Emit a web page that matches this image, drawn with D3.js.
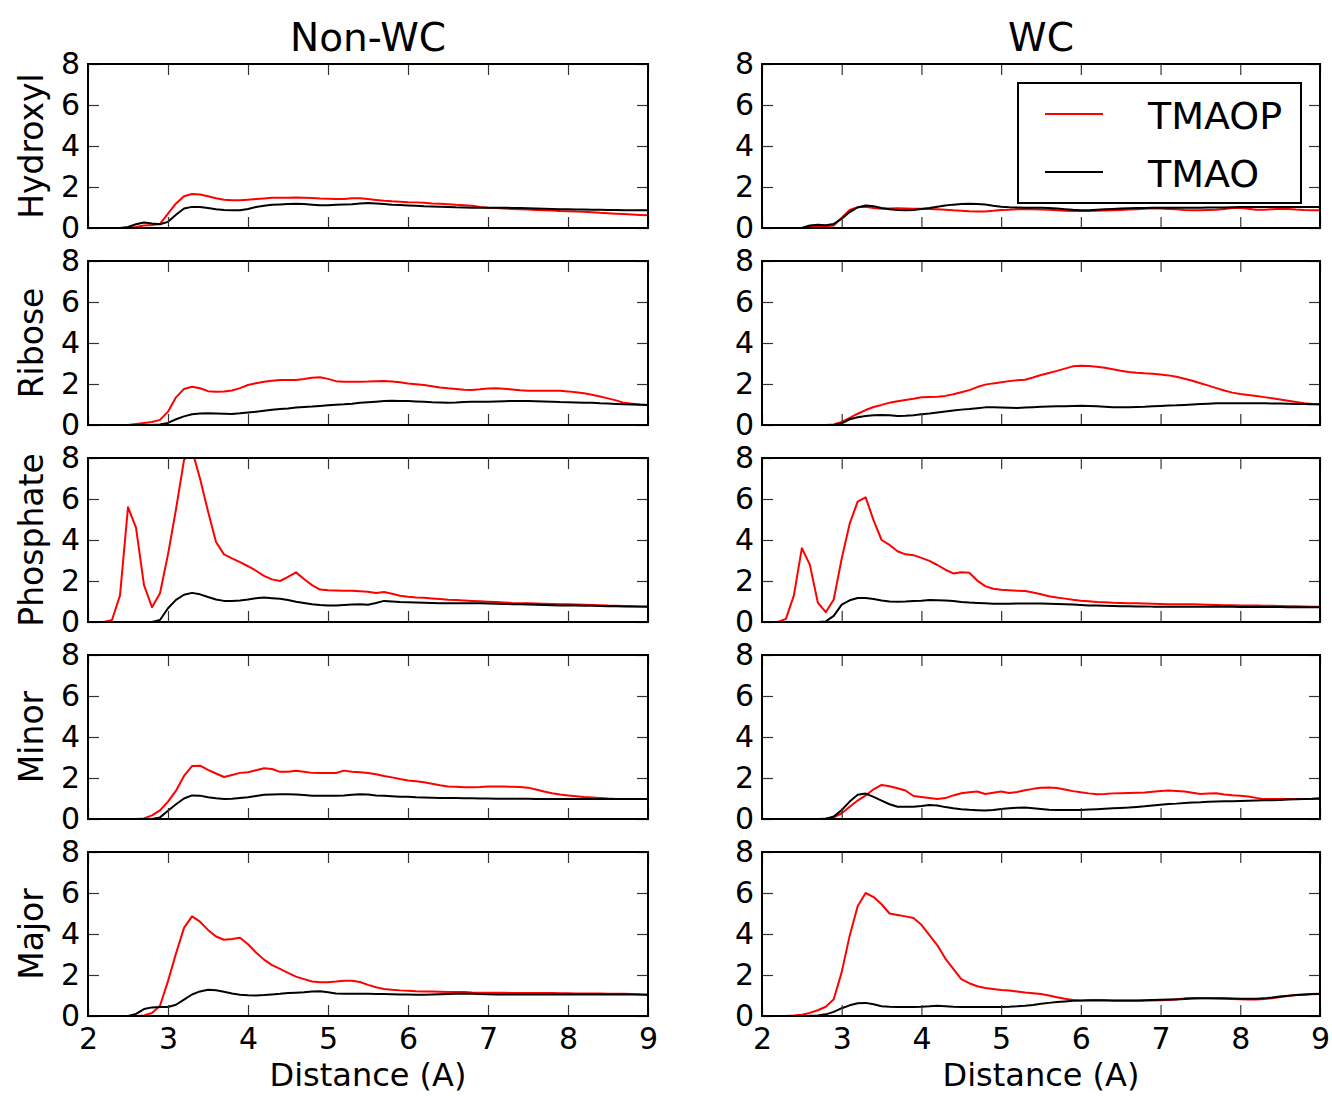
<!DOCTYPE html>
<html lang="en">
<head>
    <meta charset="UTF-8">
    <title>TMAO / TMAOP distribution</title>
    <style>
        body { margin: 0; background: #fff; }
        svg { display: block; font-family: "DejaVu Sans", sans-serif; }
    </style>
</head>
<body>
    <svg id="chart" width="1332" height="1096"></svg>
    <script src="https://d3js.org/d3.v7.min.js"></script>
    <script>
        // 数据 (x = 2.0 .. 9.0, 步长 0.1)
        const distance = d3.range(71).map(i => +(2 + i * 0.1).toFixed(1));
        const groups = ["Hydroxyl", "Ribose", "Phosphate", "Minor", "Major"];
        const pairings = ["Non-WC", "WC"];
        const seriesNames = ["TMAOP", "TMAO"];
        const xTicks = [2, 3, 4, 5, 6, 7, 8, 9];
        const yTicks = [0, 2, 4, 6, 8];

        // Non-WC
        const hydroxylNonWcTmaop = [
            0, 0, 0, 0, 0, 0, 0.05, 0.12, 0.15, 0.2,
            0.7, 1.2, 1.55, 1.66, 1.63, 1.55, 1.45, 1.38, 1.35, 1.35,
            1.38, 1.41, 1.44, 1.47, 1.48, 1.48, 1.49, 1.48, 1.46, 1.44,
            1.43, 1.41, 1.42, 1.45, 1.45, 1.41, 1.37, 1.33, 1.3, 1.28,
            1.26, 1.25, 1.23, 1.2, 1.18, 1.16, 1.13, 1.11, 1.08, 1.03,
            0.99, 0.97, 0.95, 0.93, 0.91, 0.9, 0.88, 0.86, 0.85, 0.83,
            0.82, 0.8, 0.79, 0.77, 0.74, 0.72, 0.7, 0.68, 0.66, 0.64,
            0.62];
        const hydroxylNonWcTmao = [
            0, 0, 0, 0, 0, 0.05, 0.18, 0.27, 0.22, 0.18,
            0.3, 0.65, 0.95, 1.03, 1.02, 0.98, 0.92, 0.88, 0.86, 0.87,
            0.93, 1.02, 1.08, 1.13, 1.15, 1.17, 1.18, 1.17, 1.14, 1.11,
            1.11, 1.13, 1.15, 1.16, 1.19, 1.22, 1.2, 1.17, 1.14, 1.12,
            1.1, 1.08, 1.06, 1.05, 1.04, 1.03, 1.01, 1.0, 0.99, 0.99,
            0.99, 0.99, 0.99, 0.98, 0.97, 0.96, 0.95, 0.94, 0.93, 0.92,
            0.91, 0.9, 0.9, 0.89, 0.89, 0.88, 0.88, 0.87, 0.87, 0.86,
            0.86];
        const riboseNonWcTmaop = [
            0, 0, 0, 0, 0, 0, 0.05, 0.1, 0.15, 0.25,
            0.65, 1.35, 1.76, 1.87, 1.79, 1.65, 1.62, 1.63, 1.68, 1.8,
            1.95, 2.04, 2.11, 2.16, 2.2, 2.2, 2.2, 2.24, 2.3, 2.33,
            2.25, 2.14, 2.11, 2.11, 2.11, 2.12, 2.14, 2.15, 2.12, 2.08,
            2.03, 1.99, 1.95, 1.89, 1.83, 1.79, 1.76, 1.72, 1.71, 1.74,
            1.78, 1.79, 1.77, 1.73, 1.69, 1.67, 1.67, 1.67, 1.67, 1.67,
            1.64, 1.6, 1.55, 1.48, 1.39, 1.3, 1.2, 1.08, 1.04, 1.0,
            0.98];
        const riboseNonWcTmao = [
            0, 0, 0, 0, 0, 0, 0, 0, 0, 0.02,
            0.1, 0.28, 0.42, 0.52, 0.56, 0.57, 0.56, 0.55, 0.54, 0.57,
            0.61, 0.65, 0.7, 0.74, 0.78, 0.81, 0.85, 0.88, 0.9, 0.93,
            0.96, 0.99, 1.01, 1.04, 1.08, 1.11, 1.14, 1.17, 1.18, 1.17,
            1.17, 1.15, 1.13, 1.11, 1.1, 1.09, 1.1, 1.12, 1.13, 1.14,
            1.14, 1.15, 1.16, 1.17, 1.17, 1.17, 1.16, 1.15, 1.14, 1.12,
            1.11, 1.1, 1.09, 1.08, 1.06, 1.05, 1.03, 1.01, 1.0, 0.99,
            0.98];
        const phosphateNonWcTmaop = [
            0, 0, 0, 0.1, 1.3, 5.6, 4.6, 1.8, 0.72, 1.4,
            3.3, 5.5, 7.9, 8.4, 7.0, 5.4, 3.9, 3.3, 3.1, 2.92,
            2.72, 2.5, 2.25, 2.08, 2.0, 2.2, 2.42, 2.1, 1.8, 1.58,
            1.55, 1.54, 1.53, 1.52, 1.5, 1.48, 1.42, 1.46, 1.38, 1.28,
            1.23, 1.2, 1.18, 1.15, 1.12, 1.09, 1.07, 1.05, 1.03, 1.01,
            0.99, 0.97, 0.95, 0.93, 0.92, 0.91, 0.9, 0.89, 0.88, 0.87,
            0.86, 0.85, 0.84, 0.83, 0.82, 0.8, 0.79, 0.78, 0.77, 0.76,
            0.75];
        const phosphateNonWcTmao = [
            0, 0, 0, 0, 0, 0, 0, 0, 0, 0.1,
            0.67, 1.08, 1.33, 1.42, 1.35, 1.22, 1.1, 1.03, 1.02, 1.05,
            1.1, 1.16, 1.19, 1.16, 1.13, 1.07, 0.99, 0.93, 0.87, 0.83,
            0.8, 0.8, 0.83, 0.85, 0.86, 0.84, 0.93, 1.03, 1.0, 0.97,
            0.96, 0.95, 0.94, 0.93, 0.92, 0.91, 0.91, 0.91, 0.91, 0.91,
            0.9, 0.89, 0.88, 0.87, 0.86, 0.85, 0.84, 0.83, 0.82, 0.81,
            0.8, 0.8, 0.79, 0.79, 0.78, 0.77, 0.77, 0.76, 0.76, 0.75,
            0.74];
        const minorNonWcTmaop = [
            0, 0, 0, 0, 0, 0, 0, 0.03, 0.18, 0.42,
            0.85, 1.38, 2.1, 2.58, 2.6, 2.4, 2.22, 2.05, 2.15, 2.25,
            2.28, 2.38, 2.48, 2.44, 2.3, 2.3, 2.35, 2.3, 2.25, 2.24,
            2.24, 2.24, 2.36, 2.3, 2.28, 2.24, 2.18, 2.1, 2.03, 1.95,
            1.88, 1.84, 1.79, 1.72, 1.65, 1.59, 1.57, 1.55, 1.55, 1.56,
            1.58, 1.59, 1.58, 1.57, 1.56, 1.53, 1.44, 1.34, 1.26, 1.19,
            1.15, 1.11, 1.07, 1.05, 1.03, 1.0, 0.98, 0.98, 0.98, 0.98,
            0.98];
        const minorNonWcTmao = [
            0, 0, 0, 0, 0, 0, 0, 0, 0, 0.08,
            0.4, 0.72, 1.0, 1.15, 1.14, 1.06, 1.01, 0.98, 0.99, 1.03,
            1.06, 1.12, 1.18, 1.2, 1.21, 1.21, 1.2, 1.17, 1.14, 1.13,
            1.13, 1.13, 1.15, 1.18, 1.21, 1.19, 1.15, 1.13, 1.11, 1.09,
            1.08, 1.06, 1.05, 1.04, 1.03, 1.02, 1.02, 1.01, 1.01, 1.0,
            1.0, 0.99, 0.99, 0.99, 0.99, 0.99, 0.98, 0.98, 0.98, 0.98,
            0.98, 0.98, 0.98, 0.98, 0.98, 0.98, 0.98, 0.98, 0.98, 0.98,
            0.98];
        const majorNonWcTmaop = [
            0, 0, 0, 0, 0, 0, 0, 0.03, 0.15, 0.5,
            1.7, 3.05, 4.3, 4.86, 4.6, 4.2, 3.88, 3.72, 3.76, 3.82,
            3.5, 3.1, 2.75, 2.48, 2.3, 2.1, 1.92, 1.8, 1.68, 1.65,
            1.65, 1.68, 1.72, 1.72, 1.66, 1.52, 1.4, 1.32, 1.28, 1.25,
            1.23, 1.21, 1.2, 1.19, 1.18, 1.17, 1.17, 1.17, 1.15, 1.14,
            1.13, 1.13, 1.13, 1.12, 1.12, 1.12, 1.12, 1.12, 1.12, 1.11,
            1.11, 1.1, 1.1, 1.1, 1.1, 1.09, 1.09, 1.08, 1.07, 1.05,
            1.04];
        const majorNonWcTmao = [
            0, 0, 0, 0, 0, 0, 0.1, 0.34, 0.42, 0.44,
            0.44, 0.55, 0.8, 1.05, 1.2, 1.28, 1.26, 1.18, 1.1, 1.04,
            1.01, 1.0, 1.02, 1.05, 1.08, 1.12, 1.14, 1.16, 1.19, 1.21,
            1.16, 1.1, 1.09, 1.08, 1.08, 1.08, 1.07, 1.07, 1.06, 1.05,
            1.05, 1.04, 1.04, 1.05, 1.06, 1.07, 1.08, 1.09, 1.08, 1.07,
            1.06, 1.05, 1.05, 1.05, 1.05, 1.05, 1.05, 1.05, 1.05, 1.05,
            1.05, 1.05, 1.05, 1.05, 1.05, 1.05, 1.05, 1.05, 1.05, 1.05,
            1.04];

        // WC
        const hydroxylWcTmaop = [
            0, 0, 0, 0, 0, 0, 0.08, 0.1, 0.08, 0.12,
            0.5, 0.88, 1.02, 1.04, 0.98, 0.94, 0.95, 0.96, 0.95, 0.94,
            0.94, 0.93, 0.91, 0.89, 0.86, 0.84, 0.82, 0.81, 0.81, 0.84,
            0.88, 0.89, 0.91, 0.93, 0.92, 0.9, 0.89, 0.87, 0.84, 0.83,
            0.83, 0.83, 0.84, 0.85, 0.86, 0.88, 0.9, 0.92, 0.94, 0.96,
            0.95, 0.93, 0.91, 0.88, 0.86, 0.86, 0.88, 0.89, 0.93, 0.97,
            0.99, 0.94, 0.89, 0.89, 0.92, 0.94, 0.93, 0.9, 0.88, 0.87,
            0.86];
        const hydroxylWcTmao = [
            0, 0, 0, 0, 0, 0, 0.12, 0.16, 0.14, 0.2,
            0.45, 0.78, 1.0, 1.1, 1.06, 0.98, 0.92, 0.88, 0.86, 0.88,
            0.93, 0.98, 1.04, 1.1, 1.14, 1.17, 1.18, 1.17, 1.15, 1.09,
            1.04, 1.01, 1.0, 0.99, 0.99, 0.99, 0.98, 0.95, 0.92, 0.89,
            0.87, 0.87, 0.89, 0.91, 0.93, 0.95, 0.96, 0.97, 0.98, 0.99,
            0.99, 0.99, 0.99, 0.99, 0.99, 0.99, 1.0, 1.0, 1.0, 1.01,
            1.02, 1.02, 1.02, 1.02, 1.02, 1.02, 1.02, 1.02, 1.02, 1.02,
            1.02];
        const riboseWcTmaop = [
            0, 0, 0, 0, 0, 0, 0, 0, 0, 0.03,
            0.15, 0.35, 0.55, 0.73, 0.88, 0.98, 1.09, 1.16, 1.22, 1.28,
            1.35, 1.37, 1.38, 1.42, 1.5, 1.6, 1.7, 1.85, 1.97, 2.03,
            2.08, 2.14, 2.18, 2.21, 2.32, 2.44, 2.54, 2.64, 2.75, 2.86,
            2.89, 2.88, 2.84, 2.79, 2.72, 2.65, 2.59, 2.55, 2.52, 2.5,
            2.46, 2.42, 2.35, 2.26, 2.16, 2.04, 1.92, 1.8, 1.68, 1.58,
            1.51, 1.46, 1.41, 1.36, 1.3, 1.24, 1.18, 1.12, 1.06, 1.03,
            1.01];
        const riboseWcTmao = [
            0, 0, 0, 0, 0, 0, 0, 0, 0, 0,
            0.08, 0.28, 0.38, 0.44, 0.48, 0.49, 0.47, 0.44, 0.45, 0.48,
            0.52, 0.56, 0.61, 0.66, 0.71, 0.75, 0.78, 0.82, 0.86, 0.86,
            0.85, 0.84, 0.83, 0.85, 0.87, 0.89, 0.9, 0.91, 0.92, 0.93,
            0.94, 0.93, 0.91, 0.89, 0.86, 0.86, 0.87, 0.88, 0.89, 0.91,
            0.93, 0.95, 0.96, 0.98, 1.0, 1.02, 1.04, 1.06, 1.06, 1.06,
            1.06, 1.06, 1.06, 1.06, 1.05, 1.05, 1.04, 1.03, 1.02, 1.01,
            1.01];
        const phosphateWcTmaop = [
            0, 0, 0, 0.15, 1.3, 3.6, 2.8, 0.95, 0.48, 1.1,
            3.1, 4.8, 5.87, 6.08, 4.96, 4.0, 3.76, 3.45, 3.3, 3.26,
            3.13, 2.98, 2.78, 2.55, 2.37, 2.43, 2.4, 2.02, 1.75, 1.62,
            1.57, 1.55, 1.53, 1.51, 1.44, 1.35, 1.26, 1.19, 1.14, 1.08,
            1.04, 1.01, 0.98, 0.96, 0.94, 0.93, 0.92, 0.91, 0.9, 0.89,
            0.88, 0.87, 0.87, 0.86, 0.86, 0.85, 0.84, 0.83, 0.82, 0.82,
            0.81, 0.8, 0.8, 0.79, 0.79, 0.78, 0.77, 0.77, 0.76, 0.75,
            0.74];
        const phosphateWcTmao = [
            0, 0, 0, 0, 0, 0, 0, 0, 0.03, 0.3,
            0.85, 1.06, 1.17, 1.17, 1.12, 1.05, 1.0, 0.99, 1.0, 1.02,
            1.04, 1.07, 1.06, 1.05, 1.02, 0.98, 0.95, 0.93, 0.91, 0.89,
            0.89, 0.89, 0.9, 0.9, 0.9, 0.9, 0.89, 0.88, 0.87, 0.85,
            0.83, 0.81, 0.8, 0.79, 0.78, 0.77, 0.77, 0.76, 0.76, 0.75,
            0.75, 0.75, 0.75, 0.75, 0.75, 0.74, 0.74, 0.74, 0.74, 0.74,
            0.73, 0.73, 0.73, 0.73, 0.73, 0.73, 0.72, 0.72, 0.72, 0.72,
            0.72];
        const minorWcTmaop = [
            0, 0, 0, 0, 0, 0, 0, 0, 0.03, 0.08,
            0.28, 0.6, 0.9, 1.15, 1.45, 1.66, 1.6, 1.5, 1.39, 1.12,
            1.07, 1.02, 0.97, 1.02, 1.15, 1.26, 1.31, 1.34, 1.22, 1.28,
            1.34, 1.27, 1.32, 1.4, 1.47, 1.52, 1.54, 1.51, 1.44, 1.36,
            1.3, 1.25, 1.21, 1.22, 1.25, 1.26, 1.27, 1.28, 1.29, 1.33,
            1.37, 1.39, 1.37, 1.34, 1.28, 1.22, 1.24, 1.26, 1.2, 1.16,
            1.13, 1.1, 1.03, 0.97, 0.97, 0.98, 0.98, 0.98, 0.98, 0.98,
            0.98];
        const minorWcTmao = [
            0, 0, 0, 0, 0, 0, 0, 0, 0, 0.12,
            0.44, 0.85, 1.18, 1.24, 1.08, 0.9, 0.72, 0.6, 0.6, 0.6,
            0.63, 0.68, 0.66, 0.58, 0.52, 0.48, 0.45, 0.43, 0.41, 0.44,
            0.49, 0.52, 0.55, 0.56, 0.53, 0.49, 0.45, 0.44, 0.44, 0.44,
            0.44, 0.46, 0.48, 0.5, 0.52, 0.54, 0.56, 0.59, 0.62, 0.66,
            0.7, 0.73, 0.75, 0.78, 0.81, 0.82, 0.84, 0.85, 0.86, 0.87,
            0.88, 0.89, 0.9, 0.91, 0.92, 0.93, 0.95, 0.96, 0.98, 0.99,
            1.01];
        const majorWcTmaop = [
            0, 0, 0, 0, 0.02, 0.06, 0.15, 0.28, 0.45, 0.82,
            2.14, 3.92, 5.35, 6.0, 5.8, 5.45, 5.0, 4.93, 4.86, 4.78,
            4.45, 3.95, 3.45, 2.8, 2.3, 1.8, 1.6, 1.45, 1.37, 1.32,
            1.27, 1.24, 1.2, 1.15, 1.11, 1.07, 1.0, 0.91, 0.84, 0.78,
            0.75, 0.76, 0.77, 0.76, 0.75, 0.75, 0.75, 0.75, 0.75, 0.76,
            0.77, 0.78, 0.82, 0.86, 0.88, 0.87, 0.86, 0.85, 0.84, 0.83,
            0.82, 0.81, 0.81, 0.83, 0.87, 0.93, 0.98, 1.02, 1.04, 1.06,
            1.07];
        const majorWcTmao = [
            0, 0, 0, 0, 0, 0, 0.01, 0.03, 0.08, 0.2,
            0.38, 0.52, 0.62, 0.64, 0.57, 0.48, 0.45, 0.44, 0.44, 0.44,
            0.45, 0.47, 0.5, 0.48, 0.45, 0.44, 0.44, 0.44, 0.44, 0.44,
            0.44, 0.45, 0.47, 0.5, 0.54, 0.6, 0.64, 0.68, 0.71, 0.74,
            0.76, 0.77, 0.77, 0.77, 0.76, 0.76, 0.76, 0.76, 0.77, 0.78,
            0.79, 0.8, 0.81, 0.83, 0.85, 0.86, 0.87, 0.87, 0.86, 0.85,
            0.84, 0.84, 0.84, 0.86, 0.9, 0.95, 0.99, 1.02, 1.05, 1.07,
            1.09];

        // 按 [列][行] 组织
        const panelData = [
            [
                [hydroxylNonWcTmaop, hydroxylNonWcTmao],
                [riboseNonWcTmaop, riboseNonWcTmao],
                [phosphateNonWcTmaop, phosphateNonWcTmao],
                [minorNonWcTmaop, minorNonWcTmao],
                [majorNonWcTmaop, majorNonWcTmao]
            ],
            [
                [hydroxylWcTmaop, hydroxylWcTmao],
                [riboseWcTmaop, riboseWcTmao],
                [phosphateWcTmaop, phosphateWcTmao],
                [minorWcTmaop, minorWcTmao],
                [majorWcTmaop, majorWcTmao]
            ]
        ];

        const colors = ["#ff0000", "#000000"];

        const svg = d3.select("#chart");

        // 布局
        const colLeft = [88, 762];
        const colRight = [648, 1320];
        const rowTop = 64;
        const rowStep = 197;
        const panelH = 164;
        const tickLen = 11;

        const y = d3.scaleLinear().domain([0, 8]).range([panelH, 0]);

        pairings.forEach((pairing, c) => {
            const x = d3.scaleLinear().domain([2, 9]).range([0, colRight[c] - colLeft[c]]);
            const w = colRight[c] - colLeft[c];

            // 标题
            svg.append("text")
                .attr("x", colLeft[c] + w / 2)
                .attr("y", 51)
                .attr("text-anchor", "middle")
                .attr("font-size", 39)
                .text(pairing);

            groups.forEach((group, r) => {
                const top = rowTop + r * rowStep;
                const g = svg.append("g")
                    .attr("transform", `translate(${colLeft[c]}, ${top})`);

                const clipId = `clip-${c}-${r}`;
                g.append("clipPath").attr("id", clipId)
                    .append("rect").attr("width", w).attr("height", panelH);

                const line = d3.line()
                    .x((d, i) => x(distance[i]))
                    .y(d => y(d));

                const curves = g.append("g").attr("clip-path", `url(#${clipId})`);
                panelData[c][r].forEach((values, s) => {
                    curves.append("path")
                        .datum(values)
                        .attr("fill", "none")
                        .attr("stroke", colors[s])
                        .attr("stroke-width", 2)
                        .attr("stroke-linejoin", "round")
                        .attr("d", line);
                });

                // 刻度 (内侧, 四边)
                const bottom = g.append("g")
                    .attr("transform", `translate(0, ${panelH})`)
                    .call(d3.axisBottom(x).tickValues(xTicks).tickSize(-tickLen).tickPadding(12)
                        .tickFormat(r === groups.length - 1 ? d3.format("d") : () => ""));
                const topAxis = g.append("g")
                    .call(d3.axisTop(x).tickValues(xTicks).tickSize(-tickLen).tickFormat(() => ""));
                const left = g.append("g")
                    .call(d3.axisLeft(y).tickValues(yTicks).tickSize(-tickLen).tickPadding(8)
                        .tickFormat(d3.format("d")));
                const right = g.append("g")
                    .attr("transform", `translate(${w}, 0)`)
                    .call(d3.axisRight(y).tickValues(yTicks).tickSize(-tickLen).tickFormat(() => ""));

                [bottom, topAxis, left, right].forEach(a => {
                    a.select(".domain").remove();
                    a.attr("font-family", null).attr("font-size", 30);
                    a.selectAll(".tick line").attr("stroke", "#333").attr("stroke-width", 1.2);
                    a.selectAll(".tick text").attr("fill", "#000");
                });

                // 边框
                g.append("rect")
                    .attr("width", w).attr("height", panelH)
                    .attr("fill", "none")
                    .attr("stroke", "#000")
                    .attr("stroke-width", 2);

                // y 轴标签
                if (c === 0) {
                    svg.append("text")
                        .attr("transform", `translate(43, ${top + panelH / 2}) rotate(-90)`)
                        .attr("text-anchor", "middle")
                        .attr("font-size", 33)
                        .text(group);
                }
            });

            // x 轴标签
            svg.append("text")
                .attr("x", colLeft[c] + w / 2)
                .attr("y", 1086)
                .attr("text-anchor", "middle")
                .attr("font-size", 32)
                .text("Distance (A)");
        });

        // 图例
        const legend = svg.append("g").attr("transform", "translate(1018, 83)");
        legend.append("rect")
            .attr("width", 283).attr("height", 120)
            .attr("fill", "#fff").attr("stroke", "#000").attr("stroke-width", 2);
        seriesNames.forEach((name, i) => {
            const ly = 31 + i * 58;
            legend.append("line")
                .attr("x1", 27).attr("x2", 85)
                .attr("y1", ly).attr("y2", ly)
                .attr("stroke", colors[i]).attr("stroke-width", 2);
            legend.append("text")
                .attr("x", 130).attr("y", ly + 15)
                .attr("font-size", 38)
                .text(name);
        });
    </script>
</body>
</html>
